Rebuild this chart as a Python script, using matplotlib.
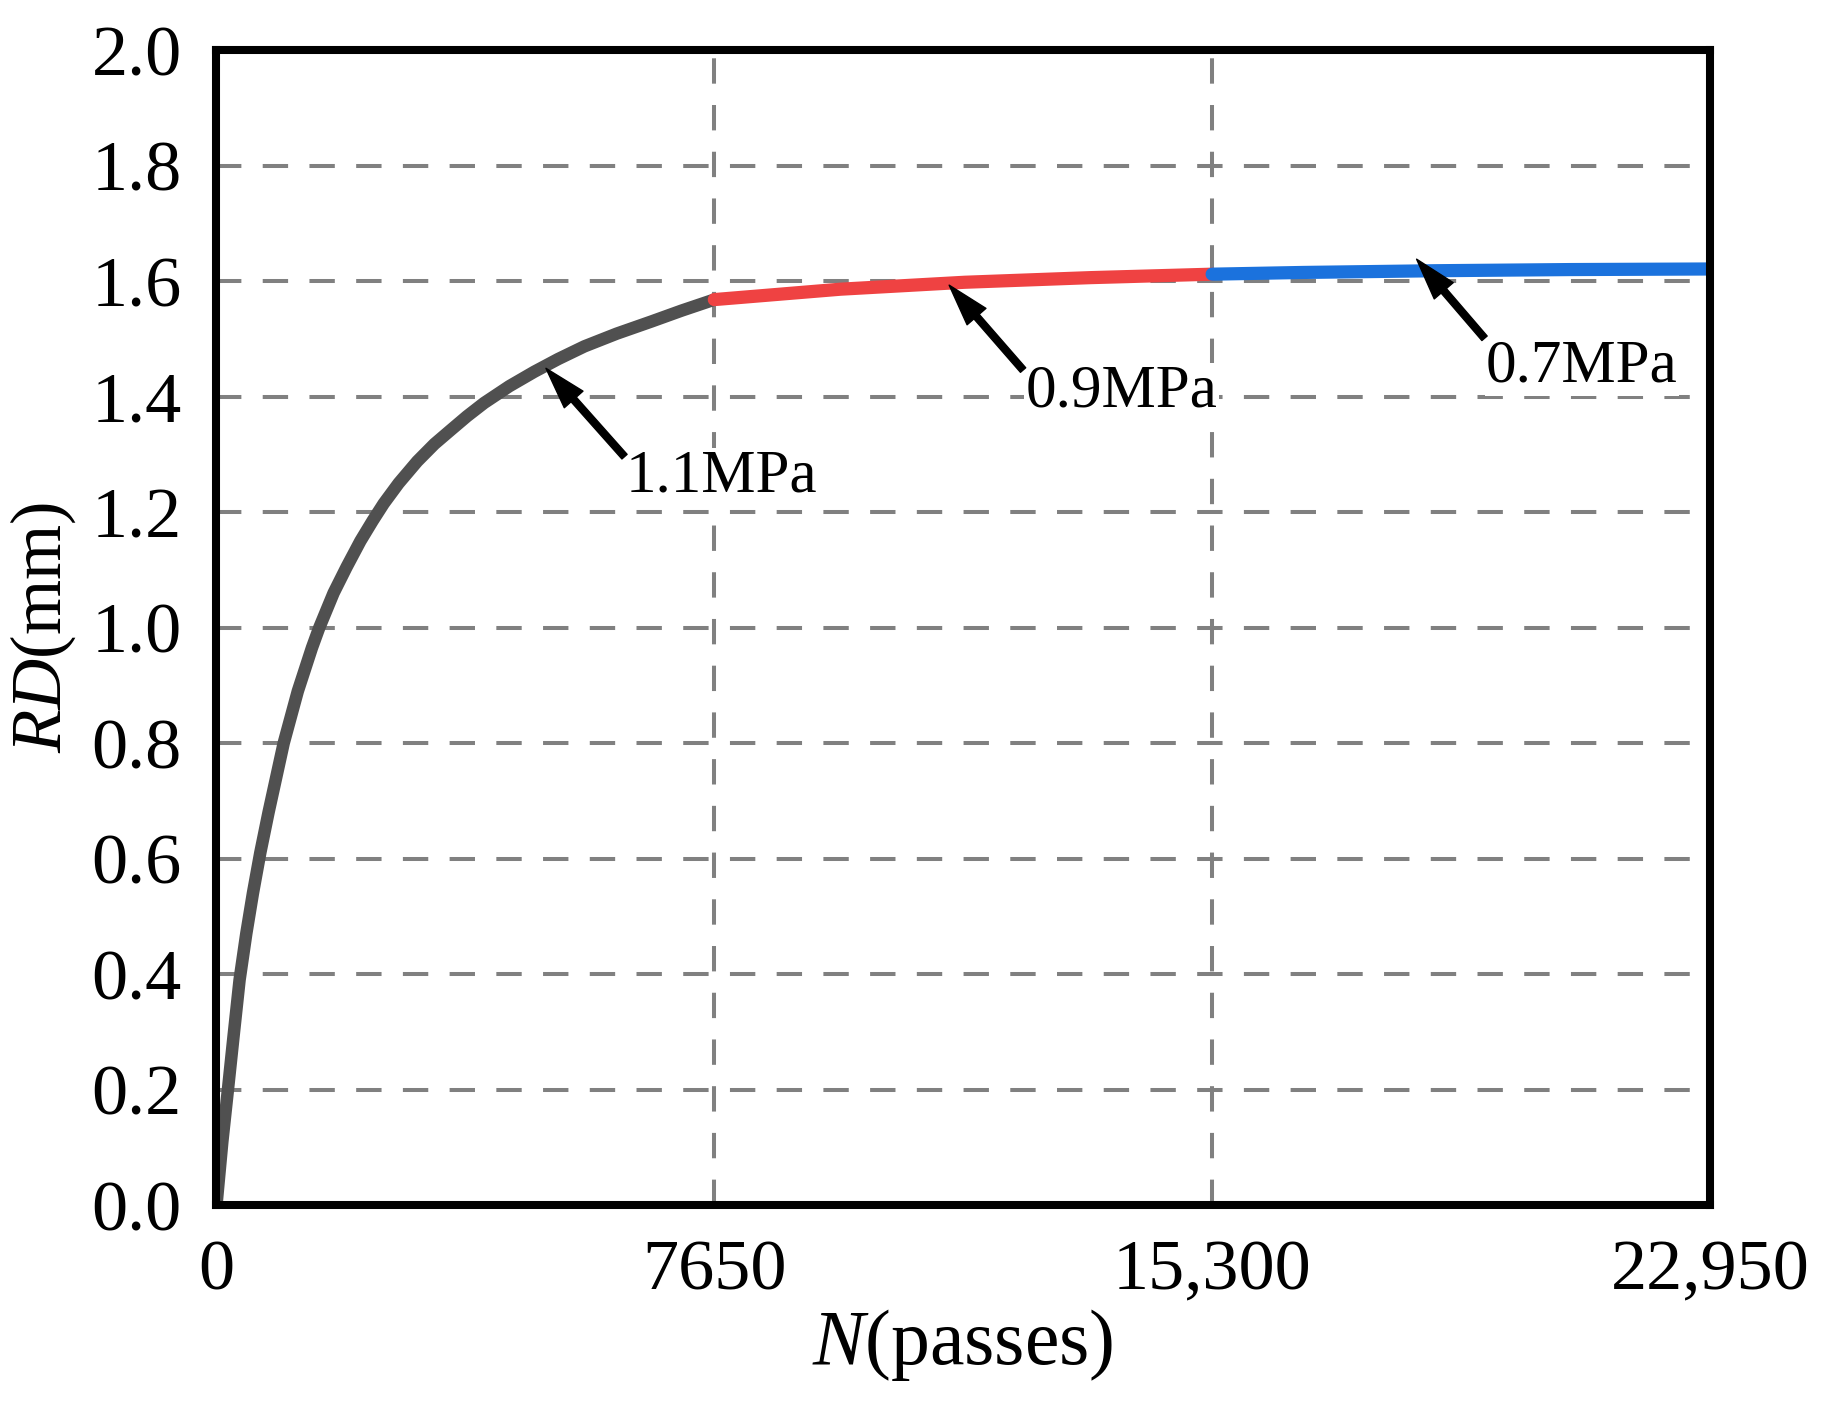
import matplotlib
matplotlib.use('Agg')
import matplotlib.pyplot as plt

# values
n_11 = [0, 90, 176, 260, 355, 458, 560, 673, 800, 1033, 1250, 1467, 1580,
        1800, 2000, 2212, 2400, 2571, 2800, 3086, 3350, 3599, 3850, 4113,
        4500, 4883, 5250, 5654, 6150, 6682, 7150, 7650]
rd_11 = [0.0, 0.11, 0.20, 0.29, 0.39, 0.47, 0.54, 0.61, 0.68, 0.80, 0.89,
         0.965, 1.0, 1.06, 1.105, 1.15, 1.185, 1.215, 1.25, 1.288, 1.318,
         1.342, 1.366, 1.389, 1.418, 1.443, 1.465, 1.487, 1.509, 1.530,
         1.549, 1.568]
n_09 = [7650, 9589, 11497, 13425, 15300]
rd_09 = [1.568, 1.586, 1.598, 1.606, 1.612]
n_07 = [15300, 16700, 18750, 20810, 22950]
rd_07 = [1.612, 1.615, 1.618, 1.620, 1.621]

x_ticks = [0, 7650, 15300, 22950]
x_labels = ['0', '7650', '15,300', '22,950']
y_ticks = [0.0, 0.2, 0.4, 0.6, 0.8, 1.0, 1.2, 1.4, 1.6, 1.8, 2.0]

labels = ['1.1MPa', '0.9MPa', '0.7MPa']
arrow_tips = [(5063, 1.449), (11259, 1.593), (18442, 1.638)]
arrow_tails = [(6270, 1.296), (12395, 1.446), (19486, 1.501)]
label_pos = [(6289, 1.235), (12431, 1.382), (19505, 1.426)]

plt.rcParams['font.family'] = ['Liberation Serif', 'DejaVu Serif']
plt.rcParams['mathtext.fontset'] = 'custom'
plt.rcParams['mathtext.rm'] = 'Liberation Serif'
plt.rcParams['mathtext.it'] = 'Liberation Serif:italic'

fig = plt.figure(figsize=(18.3, 14.04), dpi=100)
ax = fig.add_axes([0.1183, 0.1417, 0.8161, 0.8226])

ax.plot(n_11, rd_11, color='#505050', lw=9, solid_capstyle='butt',
        solid_joinstyle='round', zorder=3)
ax.plot(n_09, rd_09, color='#EF4242', lw=9.5, solid_capstyle='round', zorder=4)
ax.plot(n_07, rd_07, color='#1B72DD', lw=9.5, solid_capstyle='round', zorder=5)

ax.set_xlim(0, 22950)
ax.set_ylim(0, 2.0)
ax.set_xticks(x_ticks)
ax.set_xticklabels(x_labels)
ax.set_yticks(y_ticks)
ax.set_yticklabels(['%.1f' % v for v in y_ticks])
ax.tick_params(length=0, labelsize=52, pad=25)

ax.grid(True, color='#808080', lw=2.9, dashes=(6.3, 5.3), zorder=1)
ax.set_axisbelow(True)
for s in ax.spines.values():
    s.set_linewidth(5.8)
    s.set_color('black')
    s.set_zorder(10)

ax.set_xlabel(r'$\mathit{N}$(passes)', fontsize=56)
ax.set_ylabel(r'$\mathit{RD}$(mm)', fontsize=51)
ax.xaxis.set_label_coords(0.5, -0.088)
ax.yaxis.set_label_coords(-0.093, 0.5)

for lab, tip, tail, pos in zip(labels, arrow_tips, arrow_tails, label_pos):
    ax.annotate('', xy=tip, xytext=tail,
                arrowprops=dict(facecolor='black', edgecolor='black',
                                width=5, headwidth=18, headlength=30,
                                shrink=0),
                zorder=8)
    ax.text(pos[0], pos[1], lab, fontsize=44, ha='left', va='baseline',
            bbox=dict(facecolor='white', edgecolor='none', pad=1),
            zorder=7)

fig.savefig('out.png', dpi=100)
